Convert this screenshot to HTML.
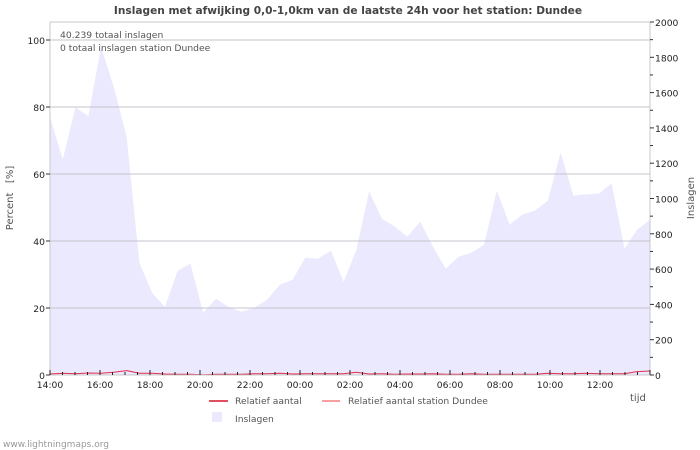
<!DOCTYPE html>
<html><head><meta charset="utf-8">
<style>
html,body{margin:0;padding:0;background:#fff;}
svg{display:block;font-family:"DejaVu Sans","Liberation Sans",sans-serif;}
</style></head>
<body>
<svg id="chart" width="700" height="450" viewBox="0 0 700 450">
<text x="348" y="14" text-anchor="middle" font-size="10.6" font-weight="bold" fill="#444">Inslagen met afwijking 0,0-1,0km van de laatste 24h voor het station: Dundee</text>
<g id="grid"></g>
<path id="area" fill="#ebe9fd"></path>
<g id="gridTop"></g>
<polyline id="line2" fill="none" stroke="#f4a0a0" stroke-width="1"></polyline>
<polyline id="line1" fill="none" stroke="#e03050" stroke-width="1"></polyline>
<rect x="50" y="22" width="600" height="353" fill="none" stroke="#c8c8c8"></rect>
<g id="axes"></g>
<text x="60" y="38" font-size="9.2" fill="#555">40.239 totaal inslagen</text>
<text x="60" y="51" font-size="9.2" fill="#555">0 totaal inslagen station Dundee</text>
<text transform="translate(13,198) rotate(-90)" text-anchor="middle" font-size="10" fill="#555" xml:space="preserve">Percent   [%]</text>
<text transform="translate(694,198) rotate(-90)" text-anchor="middle" font-size="10" fill="#555">Inslagen</text>
<text x="630" y="401" font-size="10" fill="#555">tijd</text>
<g>
<line x1="209" y1="401" x2="228" y2="401" stroke="#e05060" stroke-width="2"></line>
<text x="235" y="404" font-size="9.2" fill="#555">Relatief aantal</text>
<line x1="322" y1="401" x2="340" y2="401" stroke="#f8a0a0" stroke-width="2"></line>
<text x="348" y="404" font-size="9.2" fill="#555">Relatief aantal station Dundee</text>
<rect x="212" y="412" width="10" height="10" fill="#ebe9fd"></rect>
<text x="235" y="422" font-size="9.2" fill="#555">Inslagen</text>
</g>
<text x="3" y="447" font-size="9" fill="#999">www.lightningmaps.org</text>
</svg>
<script>
const counts=[1460,1221,1517,1466,1858,1631,1352,636,466,386,591,631,352,432,386,358,381,426,511,540,665,659,705,528,710,1040,886,841,784,869,727,602,670,693,738,1045,852,909,932,988,1261,1017,1023,1028,1085,716,824,880];
const relPct=[0.3,0.5,0.4,0.6,0.5,0.8,1.3,0.5,0.5,0.3,0.2,0.2,0.1,0.2,0.2,0.2,0.4,0.4,0.5,0.3,0.4,0.4,0.4,0.4,0.8,0.3,0.4,0.2,0.3,0.3,0.4,0.2,0.2,0.4,0.2,0.2,0.2,0.2,0.2,0.5,0.4,0.4,0.5,0.4,0.4,0.4,1.0,1.2];
const stationPct=new Array(48).fill(0);
const leftTicks=[0,20,40,60,80,100];
const rightTicks=[0,200,400,600,800,1000,1200,1400,1600,1800,2000];
const xLabels=["14:00","16:00","18:00","20:00","22:00","00:00","02:00","04:00","06:00","08:00","10:00","12:00"];
const NS="http://www.w3.org/2000/svg";
const X0=50,X1=650,Y0=375;
const xi=i=>X0+i*(X1-X0)/(counts.length-1);
const xh=h=>X0+h*25;
const yL=v=>Y0-v*3.35;
const yR=v=>Y0-v*353/2000;
function mk(tag,attrs,parent){const e=document.createElementNS(NS,tag);for(const k in attrs)e.setAttribute(k,attrs[k]);parent.appendChild(e);return e;}
const grid=document.getElementById('gridTop'),axes=document.getElementById('axes');
leftTicks.forEach(v=>{
  if(v>0){const g=mk('line',{x1:X0,x2:X1,y1:yL(v),y2:yL(v),stroke:'#c4c4cc'},grid);
  
  }
  const t=mk('text',{x:45,y:yL(v)+4,'text-anchor':'end','font-size':'9.2',fill:'#222'},axes);t.textContent=v;
  
  
  mk('line',{x1:X0-4,x2:X0,y1:yL(v),y2:yL(v),stroke:'#333'},axes);
});
rightTicks.forEach(v=>{
  mk('line',{x1:X1,x2:X1+4,y1:yR(v),y2:yR(v),stroke:'#333'},axes);
  if(v<2000)mk('line',{x1:X1,x2:X1+3,y1:yR(v+100),y2:yR(v+100),stroke:'#333'},axes);
  const t=mk('text',{x:655,y:yR(v)+4,'font-size':'9.2',fill:'#222'},axes);t.textContent=v;
  
  
});
xLabels.forEach((l,k)=>{
  const t=mk('text',{x:xh(k*2),y:388,'text-anchor':'middle','font-size':'9.2',fill:'#222'},axes);t.textContent=l;
  
  
});
for(let h=0;h<=48;h++){const x=X0+h*12.5;mk('line',{x1:x,x2:x,y1:Y0,y2:Y0-(h%4==0?5:3),stroke:'#222'},axes);}
let d='M'+X0+','+Y0;
counts.forEach((c,i)=>{d+=' L'+xi(i).toFixed(1)+','+yR(c).toFixed(1);});
d+=' L'+X1+','+Y0+' Z';
document.getElementById('area').setAttribute('d',d);
document.getElementById('line1').setAttribute('points',relPct.map((v,i)=>xi(i).toFixed(1)+','+yL(v).toFixed(1)).join(' '));
document.getElementById('line2').setAttribute('points',stationPct.map((v,i)=>xi(i).toFixed(1)+','+yL(v).toFixed(1)).join(' '));
</script>
</body></html>
